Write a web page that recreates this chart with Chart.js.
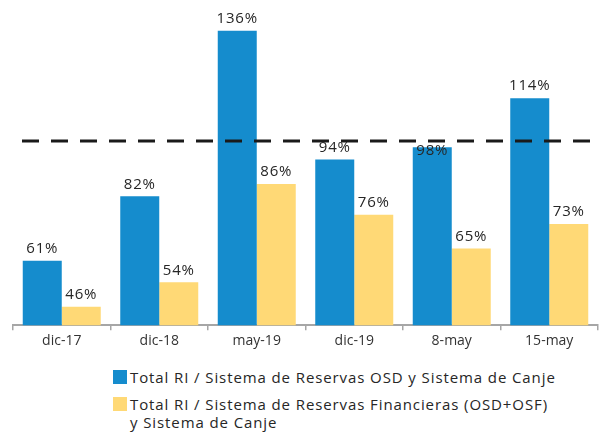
<!DOCTYPE html>
<html>
<head>
<meta charset="utf-8">
<script src="https://cdn.jsdelivr.net/npm/chart.js@4/dist/chart.umd.min.js"></script>
<style>
  body { margin: 0; background: #fff; font-family: "Open Sans", sans-serif; }
  #wrap { position: relative; width: 602px; height: 432px; }
  #chart { position: absolute; left: 0; top: 0; }
  .legend { position: absolute; left: 113px; color: #262626; font-size: 15px; line-height: 18px; letter-spacing: 0.9px; }
  .legend .item { display: flex; align-items: flex-start; margin-bottom: 9px; }
  .legend .box { width: 14px; height: 14px; margin-top: 2px; margin-right: 3px; flex: none; }
</style>
</head>
<body>
<div id="wrap">
  <canvas id="chart" width="602" height="351"></canvas>
  <div class="legend" style="top:368px">
    <div class="item"><span class="box" style="background:#158ccd"></span><span>Total RI / Sistema de Reservas OSD y Sistema de Canje</span></div>
    <div class="item"><span class="box" style="background:#ffd976"></span><span>Total RI / Sistema de Reservas Financieras (OSD+OSF)<br>y Sistema de Canje</span></div>
  </div>
</div>
<script>
const categories = ["dic-17", "dic-18", "may-19", "dic-19", "8-may", "15-may"];
const osdValues = [61, 82, 136, 94, 98, 114];
const finValues = [46, 54, 86, 76, 65, 73];
const referenceLevel = 100;

// linea punteada de referencia en 100%
const refLinePlugin = {
    id: 'refLine',
    afterDatasetsDraw(chart) {
        const ctx = chart.ctx;
        const y = chart.scales.y.getPixelForValue(referenceLevel);
        const area = chart.chartArea;
        ctx.save();
        ctx.strokeStyle = '#1a1a1a';
        ctx.lineWidth = 3;
        ctx.setLineDash([17, 12]);
        ctx.beginPath();
        ctx.moveTo(area.left + 9, y);
        ctx.lineTo(area.right - 6, y);
        ctx.stroke();
        ctx.restore();
    }
};

// etiquetas de valor sobre las barras
const valueLabelPlugin = {
    id: 'valueLabels',
    afterDraw(chart) {
        const ctx = chart.ctx;
        const lineY = chart.scales.y.getPixelForValue(referenceLevel);
        ctx.save();
        ctx.font = '15px "Open Sans"';
        ctx.letterSpacing = '0.8px';
        ctx.fillStyle = '#262626';
        ctx.textAlign = 'center';
        ctx.textBaseline = 'middle';
        chart.data.datasets.forEach((ds, i) => {
            chart.getDatasetMeta(i).data.forEach((bar, j) => {
                let ly = bar.y - 12;
                if (bar.y > lineY && ly - 5 < lineY) ly = bar.y + 3;
                ctx.fillText(ds.data[j] + '%', bar.x, ly);
            });
        });
        ctx.restore();
    }
};

new Chart(document.getElementById('chart').getContext('2d'), {
    type: 'bar',
    data: {
        labels: categories,
        datasets: [
            { label: 'Total RI / Sistema de Reservas OSD y Sistema de Canje', data: osdValues, backgroundColor: '#158ccd' },
            { label: 'Total RI / Sistema de Reservas Financieras (OSD+OSF) y Sistema de Canje', data: finValues, backgroundColor: '#ffd976' }
        ]
    },
    options: {
        responsive: false,
        animation: false,
        layout: { padding: { left: 13, right: 4, top: 0, bottom: 0 } },
        datasets: { bar: { categoryPercentage: 0.8, barPercentage: 1.0 } },
        plugins: { legend: { display: false }, tooltip: { enabled: false } },
        scales: {
            x: {
                grid: { display: true, drawOnChartArea: false, offset: true, tickLength: 5, color: '#a6a6a6', lineWidth: 1.5 },
                border: { display: true, color: '#a6a6a6', width: 2 },
                ticks: { color: '#333', font: { family: 'Open Sans', size: 14 }, padding: 2 }
            },
            y: { display: false, min: 40, max: 146 }
        }
    },
    plugins: [refLinePlugin, valueLabelPlugin]
});
</script>
</body>
</html>
